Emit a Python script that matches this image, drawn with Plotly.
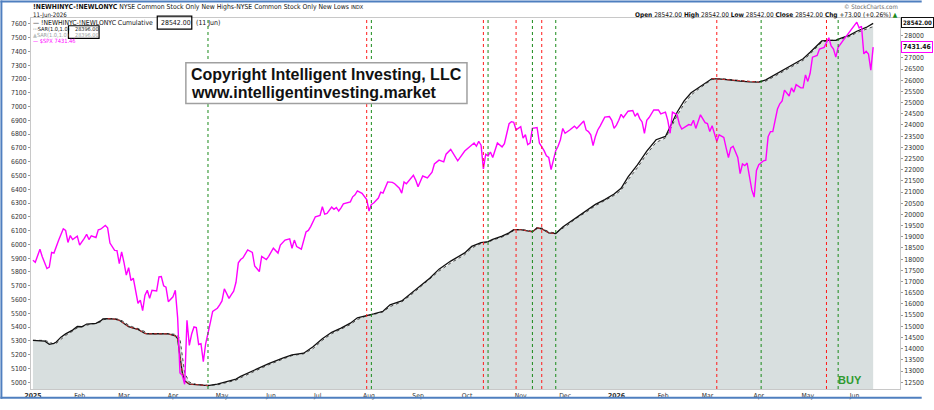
import plotly.graph_objects as go

# ---------------- data ----------------
holidays = ["2025-01-09", "2025-01-20", "2025-02-17", "2025-04-18", "2025-05-26", "2025-06-19",
            "2025-07-04", "2025-09-01", "2025-11-27", "2025-12-25", "2026-01-01", "2026-01-19",
            "2026-02-16", "2026-04-03", "2026-05-25"]

month_ticks = ["2025-01-02", "2025-02-03", "2025-03-03", "2025-04-01", "2025-05-01", "2025-06-02",
               "2025-07-01", "2025-08-01", "2025-09-02", "2025-10-01", "2025-11-03", "2025-12-01",
               "2026-01-02", "2026-02-02", "2026-03-02", "2026-04-01", "2026-05-01", "2026-06-01"]
month_labels = ["<b>2025</b>", "Feb", "Mar", "Apr", "May", "Jun", "Jul", "Aug", "Sep", "Oct", "Nov", "Dec",
                "<b>2026</b>", "Feb", "Mar", "Apr", "May", "Jun"]

spx_dates = [
    "2025-01-02", "2025-01-03", "2025-01-07", "2025-01-08", "2025-01-13", "2025-01-14", "2025-01-15", "2025-01-16",
    "2025-01-21", "2025-01-23", "2025-01-24", "2025-01-27", "2025-01-28", "2025-01-29", "2025-01-31", "2025-02-03",
    "2025-02-05", "2025-02-06", "2025-02-07", "2025-02-10", "2025-02-12", "2025-02-13", "2025-02-14", "2025-02-19",
    "2025-02-20", "2025-02-21", "2025-02-25", "2025-02-26", "2025-02-27", "2025-02-28", "2025-03-03", "2025-03-04",
    "2025-03-05", "2025-03-06", "2025-03-07", "2025-03-11", "2025-03-12", "2025-03-13", "2025-03-14", "2025-03-17",
    "2025-03-18", "2025-03-19", "2025-03-21", "2025-03-24", "2025-03-25", "2025-03-26", "2025-03-27", "2025-03-28",
    "2025-04-01", "2025-04-02", "2025-04-03", "2025-04-04", "2025-04-07", "2025-04-08", "2025-04-09", "2025-04-10",
    "2025-04-11", "2025-04-14", "2025-04-15", "2025-04-16", "2025-04-17", "2025-04-21", "2025-04-22", "2025-04-23",
    "2025-04-24", "2025-04-25", "2025-04-28", "2025-04-29", "2025-04-30", "2025-05-01", "2025-05-02", "2025-05-06",
    "2025-05-07", "2025-05-08", "2025-05-09", "2025-05-12", "2025-05-13", "2025-05-14", "2025-05-16", "2025-05-20",
    "2025-05-21", "2025-05-23", "2025-05-27", "2025-05-29", "2025-05-30", "2025-06-03", "2025-06-05", "2025-06-06",
    "2025-06-10", "2025-06-12", "2025-06-13", "2025-06-16", "2025-06-17", "2025-06-20", "2025-06-24", "2025-06-25",
    "2025-06-26", "2025-06-30", "2025-07-02", "2025-07-03", "2025-07-07", "2025-07-08", "2025-07-10", "2025-07-11",
    "2025-07-14", "2025-07-15", "2025-07-16", "2025-07-17", "2025-07-22", "2025-07-23", "2025-07-24", "2025-07-25",
    "2025-07-29", "2025-07-31", "2025-08-01", "2025-08-04", "2025-08-05", "2025-08-07", "2025-08-08", "2025-08-11",
    "2025-08-13", "2025-08-15", "2025-08-18", "2025-08-20", "2025-08-21", "2025-08-22", "2025-08-25", "2025-08-28",
    "2025-08-29", "2025-09-02", "2025-09-04", "2025-09-08", "2025-09-10", "2025-09-11", "2025-09-15", "2025-09-17",
    "2025-09-18", "2025-09-22", "2025-09-25", "2025-09-29", "2025-09-30", "2025-10-02", "2025-10-06", "2025-10-07",
    "2025-10-08", "2025-10-09", "2025-10-10", "2025-10-13", "2025-10-14", "2025-10-15", "2025-10-16", "2025-10-20",
    "2025-10-22", "2025-10-23", "2025-10-24", "2025-10-27", "2025-10-28", "2025-10-29", "2025-10-30", "2025-10-31",
    "2025-11-03", "2025-11-04", "2025-11-05", "2025-11-06", "2025-11-07", "2025-11-10", "2025-11-12", "2025-11-13",
    "2025-11-14", "2025-11-17", "2025-11-18", "2025-11-19", "2025-11-20", "2025-11-21", "2025-11-24", "2025-11-25",
    "2025-11-26", "2025-11-28", "2025-12-01", "2025-12-03", "2025-12-05", "2025-12-08", "2025-12-10", "2025-12-11",
    "2025-12-12", "2025-12-15", "2025-12-16", "2025-12-17", "2025-12-18", "2025-12-19", "2025-12-22", "2025-12-24",
    "2025-12-29", "2025-12-30", "2025-12-31", "2026-01-02", "2026-01-05", "2026-01-06", "2026-01-07", "2026-01-09",
    "2026-01-13", "2026-01-14", "2026-01-15", "2026-01-16", "2026-01-20", "2026-01-21", "2026-01-22", "2026-01-23",
    "2026-01-27", "2026-01-29", "2026-01-30", "2026-02-03", "2026-02-04", "2026-02-05", "2026-02-06", "2026-02-10",
    "2026-02-11", "2026-02-12", "2026-02-18", "2026-02-19", "2026-02-20", "2026-02-23", "2026-02-25", "2026-02-27",
    "2026-03-02", "2026-03-03", "2026-03-04", "2026-03-05", "2026-03-06", "2026-03-09", "2026-03-11", "2026-03-12",
    "2026-03-13", "2026-03-16", "2026-03-17", "2026-03-19", "2026-03-20", "2026-03-23", "2026-03-24", "2026-03-25",
    "2026-03-27", "2026-03-30", "2026-03-31", "2026-04-01", "2026-04-06", "2026-04-07", "2026-04-08", "2026-04-09",
    "2026-04-10", "2026-04-14", "2026-04-15", "2026-04-16", "2026-04-17", "2026-04-21", "2026-04-22", "2026-04-23",
    "2026-04-24", "2026-04-28", "2026-04-29", "2026-04-30", "2026-05-01", "2026-05-04", "2026-05-05", "2026-05-07",
    "2026-05-08", "2026-05-12", "2026-05-13", "2026-05-14", "2026-05-15", "2026-05-18", "2026-05-19", "2026-05-20",
    "2026-05-22", "2026-05-27", "2026-05-29", "2026-06-02", "2026-06-03", "2026-06-04", "2026-06-05", "2026-06-08",
    "2026-06-09", "2026-06-10", "2026-06-11"]
spx_vals = [
    5885, 5870, 5965, 5910, 5825, 5835, 5942, 5937,
    6030, 6113, 6101, 6014, 6064, 6035, 6060, 5994,
    6043, 6073, 6035, 6062, 6050, 6106, 6110, 6137,
    6120, 6010, 5956, 5955, 5861, 5946, 5870, 5777,
    5831, 5738, 5755, 5573, 5596, 5519, 5632, 5667,
    5608, 5667, 5662, 5765, 5767, 5700, 5690, 5584,
    5620, 5667, 5467, 5068, 5050, 4985, 5449, 5267,
    5350, 5401, 5396, 5274, 5280, 5150, 5279, 5370,
    5432, 5514, 5525, 5537, 5561, 5590, 5678, 5608,
    5636, 5660, 5725, 5866, 5890, 5902, 5960, 5942,
    5843, 5803, 5913, 5890, 5913, 5972, 5937, 5995,
    6031, 6040, 5972, 6031, 5984, 5965, 6090, 6101,
    6129, 6200, 6210, 6273, 6219, 6224, 6270, 6255,
    6268, 6242, 6265, 6294, 6308, 6345, 6360, 6388,
    6370, 6325, 6242, 6290, 6300, 6336, 6379, 6372,
    6453, 6450, 6440, 6407, 6372, 6453, 6440, 6501,
    6466, 6418, 6496, 6482, 6524, 6583, 6611, 6599,
    6654, 6689, 6606, 6660, 6677, 6707, 6735, 6712,
    6747, 6720, 6548, 6654, 6642, 6670, 6630, 6735,
    6707, 6731, 6795, 6875, 6890, 6885, 6830, 6841,
    6853, 6771, 6795, 6724, 6735, 6841, 6848, 6735,
    6712, 6680, 6642, 6630, 6543, 6618, 6680, 6712,
    6759, 6841, 6806, 6830, 6858, 6840, 6872, 6895,
    6830, 6818, 6795, 6717, 6783, 6830, 6858, 6923,
    6927, 6900, 6841, 6865, 6900, 6943, 6920, 6966,
    6971, 6929, 6952, 6912, 6888, 6806, 6900, 6920,
    6975, 6975, 6947, 6959, 6900, 6806, 6960, 6940,
    6870, 6837, 6869, 6865, 6900, 6841, 6940, 6883,
    6876, 6818, 6860, 6795, 6747, 6795, 6776, 6700,
    6630, 6700, 6712, 6630, 6513, 6583, 6571, 6590,
    6395, 6343, 6536, 6578, 6606, 6611, 6782, 6818,
    6818, 6982, 7020, 7041, 7119, 7076, 7135, 7105,
    7158, 7135, 7135, 7229, 7182, 7241, 7358, 7370,
    7417, 7429, 7464, 7499, 7440, 7417, 7358, 7429,
    7476, 7522, 7570, 7612, 7570, 7582, 7382, 7400,
    7380, 7264, 7431]

cum_dates = [
    "2025-01-02", "2025-01-07", "2025-01-10", "2025-01-14", "2025-01-16", "2025-01-17", "2025-01-22", "2025-01-24",
    "2025-01-29", "2025-01-31", "2025-02-04", "2025-02-06", "2025-02-10", "2025-02-12", "2025-02-14", "2025-02-18",
    "2025-02-20", "2025-02-25", "2025-02-27", "2025-03-03", "2025-03-05", "2025-03-07", "2025-03-11", "2025-03-14",
    "2025-03-17", "2025-03-20", "2025-03-25", "2025-03-28", "2025-04-02", "2025-04-03", "2025-04-04", "2025-04-07",
    "2025-04-08", "2025-04-10", "2025-04-15", "2025-04-21", "2025-04-23", "2025-04-29", "2025-05-05", "2025-05-09",
    "2025-05-13", "2025-05-19", "2025-05-23", "2025-05-30", "2025-06-09", "2025-06-13", "2025-06-23", "2025-06-27",
    "2025-07-03", "2025-07-10", "2025-07-16", "2025-07-22", "2025-07-25", "2025-07-31", "2025-08-05", "2025-08-11",
    "2025-08-14", "2025-08-21", "2025-08-27", "2025-09-03", "2025-09-09", "2025-09-15", "2025-09-22", "2025-09-30",
    "2025-10-03", "2025-10-09", "2025-10-14", "2025-10-16", "2025-10-22", "2025-10-27", "2025-10-29", "2025-11-03",
    "2025-11-10", "2025-11-12", "2025-11-14", "2025-11-19", "2025-11-24", "2025-11-28", "2025-12-03", "2025-12-05",
    "2025-12-10", "2025-12-15", "2025-12-18", "2025-12-24", "2025-12-31", "2026-01-06", "2026-01-09", "2026-01-15",
    "2026-01-22", "2026-01-28", "2026-02-03", "2026-02-05", "2026-02-10", "2026-02-13", "2026-02-19", "2026-02-24",
    "2026-02-27", "2026-03-03", "2026-03-04", "2026-03-10", "2026-03-16", "2026-03-20", "2026-03-26", "2026-04-01",
    "2026-04-07", "2026-04-10", "2026-04-16", "2026-04-22", "2026-04-29", "2026-05-04", "2026-05-07", "2026-05-11",
    "2026-05-14", "2026-05-19", "2026-05-21", "2026-05-28", "2026-06-02", "2026-06-08", "2026-06-11"]
cum_vals = [
    14372, 14372, 14340, 14190, 14240, 14300, 14515, 14660,
    14830, 14990, 14980, 15100, 15125, 15130, 15240, 15330,
    15340, 15320, 15270, 15125, 14980, 14920, 14860, 14680,
    14660, 14665, 14670, 14660, 14570, 14445, 13640, 12920,
    12560, 12415, 12390, 12370, 12350, 12415, 12520, 12640,
    12760, 12950, 13140, 13330, 13575, 13720, 13795, 14080,
    14445, 14730, 14920, 15140, 15380, 15500, 15555, 15670,
    15960, 16135, 16470, 16830, 17150, 17555, 17915, 18280,
    18570, 18740, 18785, 18885, 19030, 19175, 19320, 19320,
    19220, 19405, 19360, 19175, 19145, 19435, 19650, 19825,
    20010, 20230, 20450, 20665, 20910, 21170, 21680, 22215,
    22835, 23340, 23485, 23920, 24570, 25080, 25440, 25655,
    25870, 26015, 26075, 26045, 25990, 25960, 25930, 25915,
    26015, 26190, 26420, 26670, 26960, 27250, 27565, 27755,
    27785, 27785, 27870, 28015, 28190, 28360, 28542]
sar_vals = [
    14372, 14372, 14372, 14300, 14200, 14240, 14430, 14590,
    14780, 14930, 14990, 15050, 15100, 15120, 15200, 15290,
    15330, 15345, 15310, 15200, 15050, 14960, 14900, 14760,
    14680, 14660, 14665, 14670, 14640, 14570, 14445, 13640,
    12920, 12500, 12400, 12380, 12365, 12380, 12480, 12590,
    12700, 12900, 13090, 13280, 13530, 13690, 13770, 14000,
    14370, 14670, 14870, 15080, 15300, 15470, 15530, 15640,
    15880, 16090, 16400, 16750, 17080, 17470, 17830, 18200,
    18500, 18700, 18760, 18850, 18990, 19130, 19280, 19330,
    19250, 19360, 19400, 19220, 19170, 19370, 19590, 19770,
    19960, 20170, 20390, 20620, 20850, 21080, 21550, 22090,
    22700, 23220, 23420, 23800, 24420, 24940, 25340, 25590,
    25800, 25960, 26040, 26070, 26020, 25980, 25950, 25930,
    25960, 26130, 26360, 26600, 26890, 27170, 27480, 27700,
    27780, 27790, 27830, 27960, 28130, 28300, 28396]

down_periods = [("2025-02-20", "2025-03-28"), ("2025-04-02", "2025-04-23"),
                ("2025-10-29", "2025-11-10"), ("2025-11-12", "2025-11-24"),
                ("2026-03-04", "2026-04-01")]

sell_signals = ["2025-07-31", "2025-10-10", "2025-10-30", "2025-11-14", "2026-03-06", "2026-05-13"]
buy_signals = ["2025-04-23", "2025-08-04", "2025-10-14", "2025-11-10", "2025-11-24", "2026-04-02", "2026-05-20"]

left_ticks = list(range(5000, 7601, 100))
right_ticks = [v for v in range(12500, 28001, 500) if v != 27500]

# ---------------- geometry helpers (pixels -> paper) ----------------
W, H = 934, 410
PL, PR, PT, PB = 31, 912, 18, 400


def fx(x):
    return (x - PL) / (PR - PL)


def fy(y):
    return (PB - y) / (PB - PT)


NARROW = "'Liberation Sans Narrow', 'Arial Narrow', 'DejaVu Sans Condensed', Arial, sans-serif"
ARIAL = "Arial, 'Liberation Sans', sans-serif"

fig = go.Figure()

# SAR area + dotted line (right axis)
fig.add_trace(go.Scatter(x=cum_dates, y=sar_vals, mode="lines", yaxis="y",
                         line=dict(color="#4a4a4a", width=1, dash="dot"),
                         fill="tozeroy", fillcolor="#d8dfdf", hoverinfo="skip"))
# cumulative line
fig.add_trace(go.Scatter(x=cum_dates, y=cum_vals, mode="lines", yaxis="y",
                         line=dict(color="#111111", width=1.3)))
# red (down) segments
red_vals = []
for d, v in zip(cum_dates, cum_vals):
    inside = any(a <= d <= b for a, b in down_periods)
    red_vals.append(v if inside else None)
fig.add_trace(go.Scatter(x=cum_dates, y=red_vals, mode="lines", yaxis="y",
                         line=dict(color="#e03030", width=0.9, dash="3px,2px"), connectgaps=False))
# SPX (left axis, drawn on top)
fig.add_trace(go.Scatter(x=spx_dates, y=spx_vals, mode="lines", yaxis="y2",
                         line=dict(color="#ff00ff", width=1.4)))

shapes = []
for d in sell_signals:
    shapes.append(dict(type="line", xref="x", yref="paper", x0=d, x1=d, y0=0, y1=1,
                       line=dict(color="#ff1a1a", width=1, dash="dot")))
for d in buy_signals:
    shapes.append(dict(type="line", xref="x", yref="paper", x0=d, x1=d, y0=0, y1=1,
                       line=dict(color="#1a8a1a", width=1, dash="dot")))

# copyright box
shapes.append(dict(type="rect", xref="paper", yref="paper", x0=fx(188), x1=fx(473), y0=fy(106), y1=fy(64),
                   line=dict(color="#a0a0a0", width=1.5), fillcolor="white", layer="above"))
# boxes in legend
shapes.append(dict(type="rect", xref="paper", yref="paper", x0=fx(159), x1=fx(194), y0=fy(29.5), y1=fy(16),
                   line=dict(color="#000000", width=1.2), fillcolor="rgba(0,0,0,0)", layer="above"))
shapes.append(dict(type="rect", xref="paper", yref="paper", x0=fx(69), x1=fx(100), y0=fy(39), y1=fy(26),
                   line=dict(color="#000000", width=1.2), fillcolor="rgba(0,0,0,0)", layer="above"))
# blue outer frame
shapes.append(dict(type="rect", xref="paper", yref="paper", x0=fx(0), x1=fx(2), y0=fy(410), y1=fy(0),
                   line=dict(width=0), fillcolor="#4f7fbf", layer="above"))
shapes.append(dict(type="rect", xref="paper", yref="paper", x0=fx(0), x1=fx(934), y0=fy(2), y1=fy(0),
                   line=dict(width=0), fillcolor="#4f7fbf", layer="above"))
shapes.append(dict(type="rect", xref="paper", yref="paper", x0=fx(0), x1=fx(934), y0=fy(410), y1=fy(408),
                   line=dict(width=0), fillcolor="#4f7fbf", layer="above"))

ann = []


def txt(x, y, text, size=7.0, color="#000000", xanchor="left", family=NARROW, **kw):
    ann.append(dict(xref="paper", yref="paper", x=fx(x), y=fy(y), text=text, showarrow=False,
                    xanchor=xanchor, yanchor="middle", font=dict(family=family, size=size, color=color), **kw))


# header
txt(31, 7, "<b>!NEWHINYC-!NEWLONYC</b> NYSE Common Stock Only New Highs-NYSE Common Stock Only New Lows "
           "<span style='font-size:5.5px'>INDX</span>", size=6.8, color="#111")
txt(31, 14.5, "11-Jun-2026", size=6.1, color="#111")
txt(912, 6, "© StockCharts.com", size=6.1, color="#666", xanchor="right")
txt(912, 14.5, "<b>Open</b> 28542.00 <b>High</b> 28542.00 <b>Low</b> 28542.00 <b>Close</b> 28542.00 "
               "<b>Chg</b> +73.00 (+0.26%) <span style='color:#1a8a1a'>▲</span>",
    size=6.5, color="#111", xanchor="right")

# legend
txt(31, 22.7, "— !NEWHINYC-!NEWLONYC Cumulative", size=6.8, color="#111")
txt(161, 22.7, "28542.00", size=6.9, color="#111")
txt(196, 22.7, "(11 Jun)", size=6.9, color="#111")
txt(31, 29.3, "···SAR(1.0,1.0)", size=5.6, color="#111")
txt(74, 29.3, "28396.00", size=5.5, color="#111")
txt(31, 35.6, "<span style='color:#b8bebe'>▲</span>SAR(1.0,1.0)", size=5.6, color="#9aa0a0")
txt(74, 35.6, "28396.00", size=5.5, color="#9aa0a0")
txt(31, 41.8, "— $SPX 7431.46", size=5.7, color="#ff00ff")

# copyright
txt(191, 76, "<b>Copyright Intelligent Investing, LLC</b>", size=16, color="#111", family=ARIAL)
txt(191, 94.5, "<b>www.intelligentinvesting.market</b>", size=16, color="#111", family=ARIAL)

# BUY
txt(861, 391, "<b>BUY</b>", size=11, color="#2f9a2f", xanchor="center", family=ARIAL)

# right axis value tags
ann.append(dict(xref="paper", yref="paper", x=fx(913), y=fy(23), text="<b>28542.00</b>", showarrow=False,
                xanchor="left", yanchor="middle", font=dict(family=NARROW, size=6.1, color="#111"),
                bordercolor="#111", borderwidth=1, borderpad=1, bgcolor="white"))
ann.append(dict(xref="paper", yref="paper", x=fx(913), y=fy(48), text="<b>7431.46</b>", showarrow=False,
                xanchor="left", yanchor="middle", font=dict(family=NARROW, size=6.8, color="#111"),
                bordercolor="#ff00ff", borderwidth=1, borderpad=1, bgcolor="white"))

fig.update_layout(
    width=W, height=H,
    margin=dict(l=PL, r=W - PR, t=PT, b=H - PB),
    paper_bgcolor="white", plot_bgcolor="white",
    showlegend=False,
    font=dict(family=NARROW, size=7, color="#333"),
    xaxis=dict(type="date", range=["2025-01-01 04:00", "2026-06-26 12:00"],
               rangebreaks=[dict(bounds=["sat", "mon"]), dict(values=holidays)],
               tickmode="array", tickvals=month_ticks, ticktext=month_labels,
               tickfont=dict(family=NARROW, size=6.8, color="#333"), ticks="", showgrid=False,
               showline=True, linecolor="#c8c8c8", mirror=True, zeroline=False),
    yaxis=dict(side="right", range=[12196, 28782], tickmode="array", tickvals=right_ticks,
               ticktext=[str(v) for v in right_ticks],
               tickfont=dict(family=NARROW, size=6.8, color="#333"), ticks="outside", ticklen=2,
               tickcolor="#999", showgrid=False, zeroline=False, showline=True, linecolor="#c8c8c8"),
    yaxis2=dict(side="left", overlaying="y", range=[4951, 7642], tickmode="array", tickvals=left_ticks,
                ticktext=[str(v) for v in left_ticks],
                tickfont=dict(family=NARROW, size=6.8, color="#333"), ticks="outside", ticklen=2,
                tickcolor="#999", showgrid=False, zeroline=False, showline=True, linecolor="#c8c8c8"),
    shapes=shapes,
    annotations=ann,
)

fig.write_html("out.html", config={"displayModeBar": False},
               post_script="document.body.style.margin='0';document.body.style.overflow='hidden';")
